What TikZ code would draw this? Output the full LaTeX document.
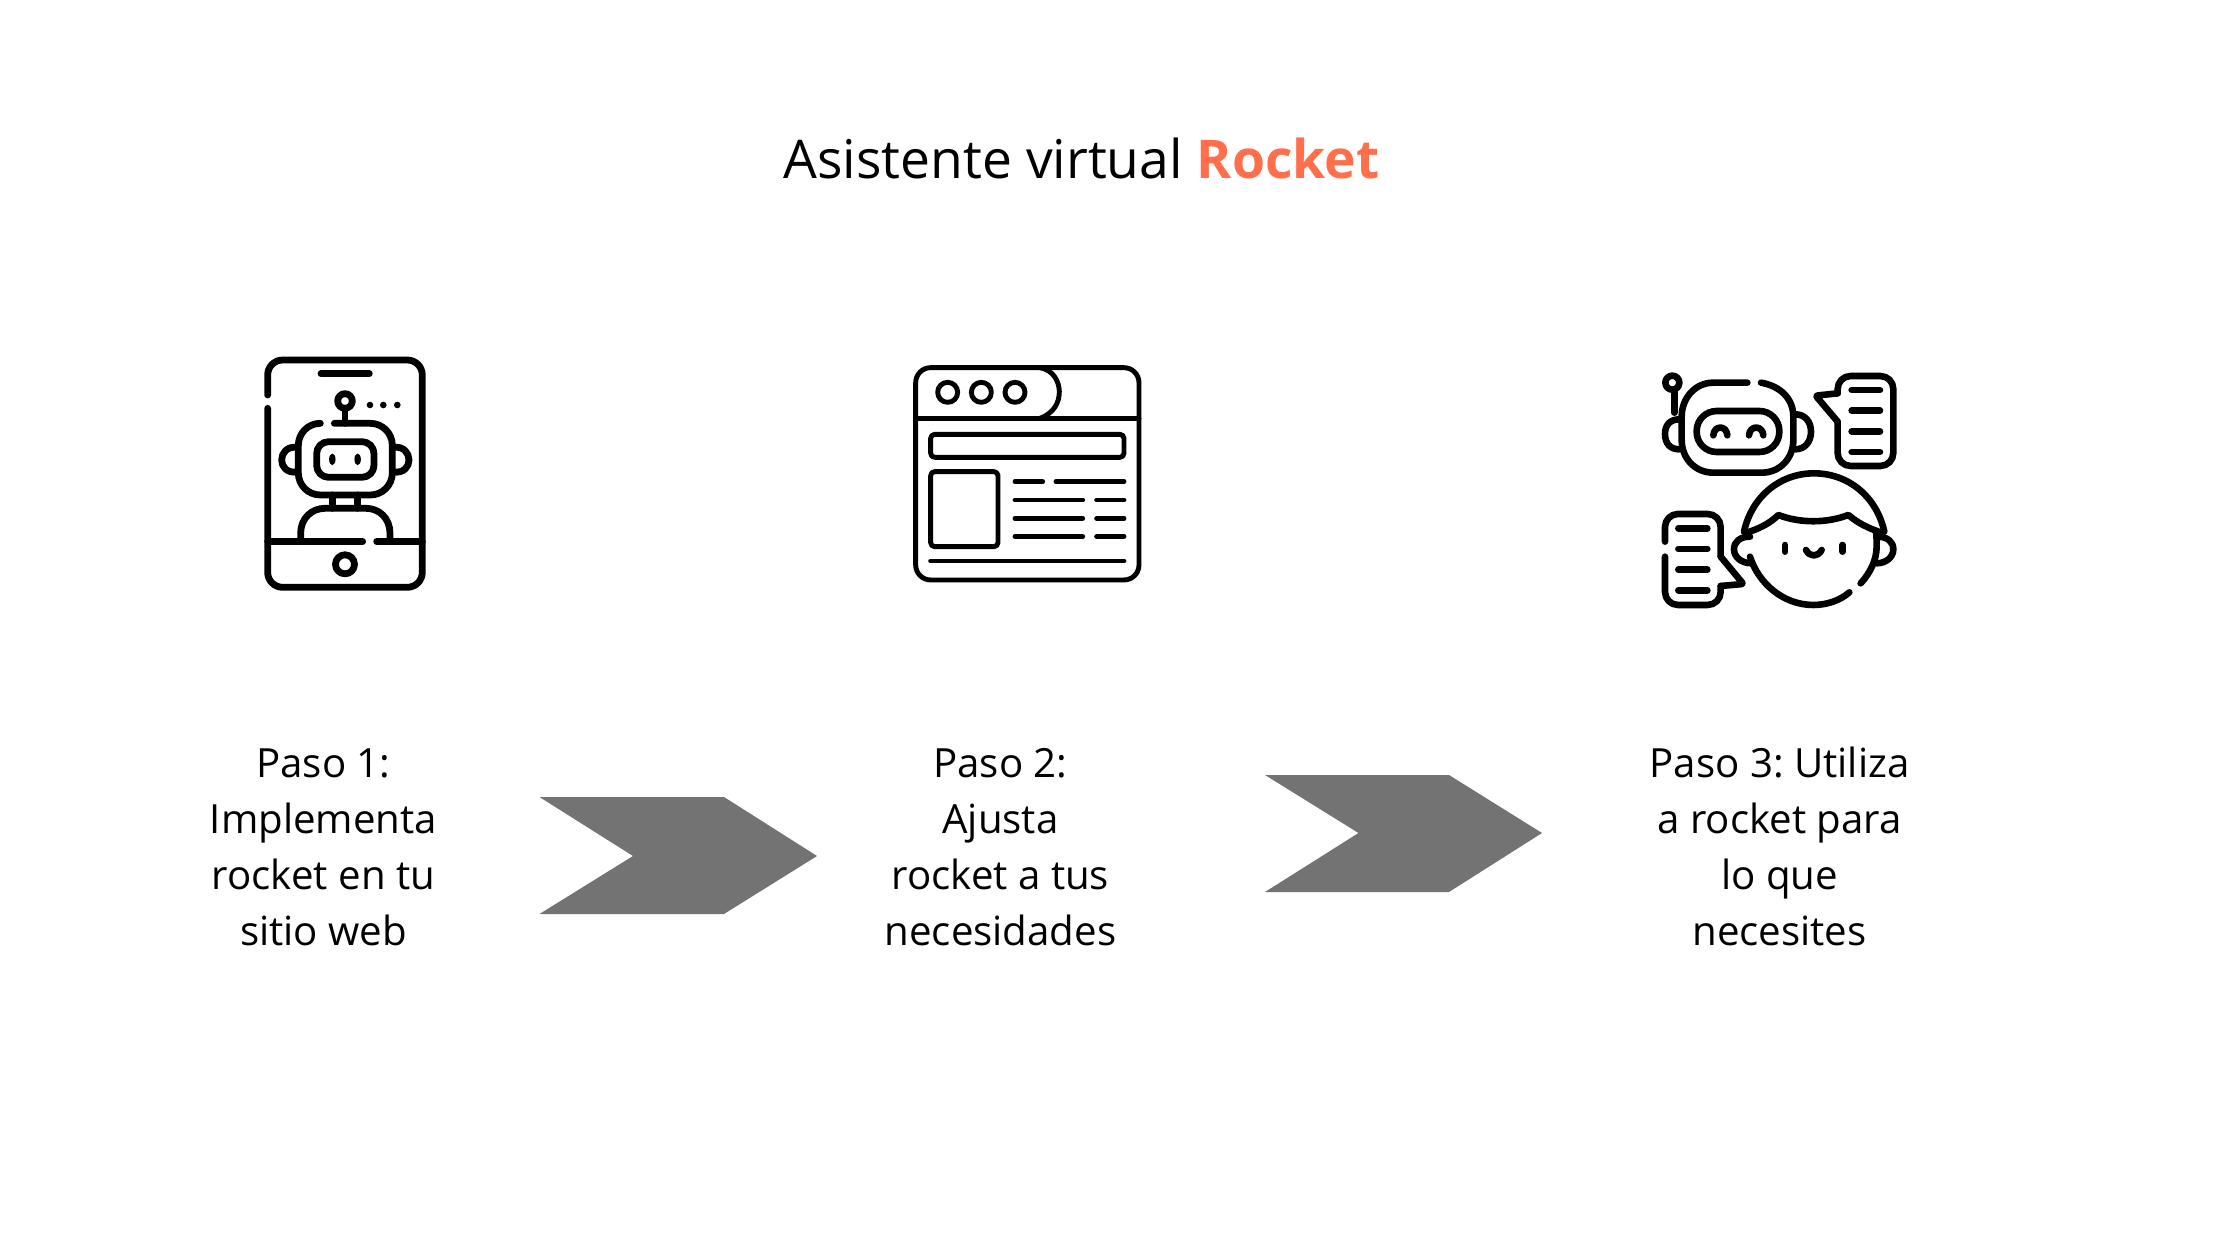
\documentclass[tikz,border=0pt]{standalone}
\usepackage{fontspec}
\setmainfont{Open Sans}
\frenchspacing
\definecolor{rocketc}{HTML}{FF6F4B}
\definecolor{chevc}{HTML}{737373}
\tikzset{
  iconline/.style={draw=black,line cap=round,line join=round,fill=none},
  iconA/.style={shift={(240,340)},x=0.3333pt,y=-0.3333pt,iconline,line width=6.8pt},
  iconB/.style={shift={(900,350)},x=0.3333pt,y=-0.3333pt,iconline,line width=4.9pt},
  iconC/.style={shift={(1650,360)},x=0.3333pt,y=-0.3333pt,iconline,line width=6.6pt},
  steptext/.style={align=center,font=\fontsize{40.2}{56}\selectfont,text=black,inner sep=0pt},
  chevron/.style={fill=chevc,draw=none}
}
\begin{document}
\begin{tikzpicture}[x=1pt,y=-1pt]
\useasboundingbox (0,0) rectangle (2240,1260);
\fill[white] (0,0) rectangle (2240,1260);
\node[inner sep=0pt,font=\fontsize{53.4}{60}\selectfont] (title) at (1081.5,158) {Asistente virtual \textcolor{rocketc}{\textbf{Rocket}}};
\node[steptext] (p1) at (323.5,847.5) {Paso 1:\\Implementa\\rocket en tu\\sitio web};
\node[steptext] (p2) at (1000.5,847.5) {Paso 2:\\Ajusta\\rocket a tus\\necesidades};
\node[steptext] (p3) at (1779.5,846) {Paso 3: Utiliza\\a rocket para\\lo que\\necesites};
\fill[chevron] (539.5,797) -- (724,797) -- (817,856) -- (724,914) -- (539.5,914) -- (633,856) -- cycle;
\fill[chevron] (1265,775) -- (1449,775) -- (1542,833) -- (1449,892) -- (1265,892) -- (1358.5,833) -- cycle;
% Icon 1: phone with robot
\begin{scope}[iconA]
\draw[rounded corners=15pt] (83,205) -- (83,742) -- (547,742) -- (547,60) -- (83,60) -- (83,165);
\draw (243,101) -- (388,101);
\draw (315,183) circle[radius=7.3pt];
\draw (315,210) -- (315,250);
\foreach \xx in {390,430,472} \fill[black] (\xx,195) circle[radius=3.3pt];
\draw[rounded corners=22pt] (283,250) -- (457,250) -- (457,465) -- (175,465) -- (175,250) -- (240,250);
\draw[rounded corners=12pt] (230,305) rectangle (402,412);
\fill[black] (277,358) ellipse[x radius=3.2pt,y radius=5.8pt];
\fill[black] (353,358) ellipse[x radius=3.2pt,y radius=5.8pt];
\draw (172,322) .. controls (140,318) and (125,340) .. (125,360) .. controls (125,380) and (140,400) .. (172,396);
\draw (460,322) .. controls (492,318) and (507,340) .. (507,360) .. controls (507,380) and (492,400) .. (460,396);
\draw (277,465) -- (277,505);
\draw (353,465) -- (353,505);
\draw (182,605) -- (182,580) .. controls (182,535) and (215,505) .. (255,505) -- (378,505) .. controls (418,505) and (450,535) .. (450,580) -- (450,605);
\draw (83,605) -- (368,605);
\draw (410,605) -- (547,605);
\draw (315,673) circle[radius=9.5pt];
\end{scope}
% Icon 2: browser window
\begin{scope}[iconB]
\draw[rounded corners=15pt] (47,53) rectangle (717,690);
\draw (47,205) -- (717,205);
\draw (420,53) .. controls (460,60) and (478,95) .. (478,125) .. controls (478,160) and (460,190) .. (420,205);
\foreach \xx in {143,244,345} \draw (\xx,127) circle[radius=10pt];
\draw[rounded corners=4pt] (92,253) rectangle (672,322);
\draw[rounded corners=4pt] (92,365) rectangle (294,590);
\draw (345,395) -- (428,395);
\draw (468,395) -- (672,395);
\foreach \yy in {450,505,560} {\draw (345,\yy) -- (548,\yy); \draw (590,\yy) -- (672,\yy);}
\draw (92,633) -- (672,633);
\end{scope}
% Icon 3: robot and person chatting
\begin{scope}[iconC]
\draw (67,68) circle[radius=7pt];
\draw (73,95) -- (73,158);
\draw (333,68) .. controls (390,78) and (430,115) .. (430,170) -- (430,240) .. controls (430,295) and (390,338) .. (335,338) -- (190,338) .. controls (135,338) and (95,295) .. (95,240) -- (95,170) .. controls (95,115) and (135,68) .. (190,68) -- (292,68);
\draw[rounded corners=20pt] (140,153) rectangle (388,276);
\draw (190,226) .. controls (192,195) and (230,195) .. (232,226);
\draw (297,226) .. controls (299,195) and (338,195) .. (340,226);
\draw (88,178) .. controls (60,178) and (45,195) .. (45,222) .. controls (45,250) and (60,268) .. (88,268);
\draw (436,163) .. controls (465,163) and (483,185) .. (483,215) .. controls (483,245) and (465,268) .. (436,268);
\draw[rounded corners=13pt] (563,100) -- (563,48) -- (730,48) -- (730,318) -- (563,318) -- (563,185);
\draw[rounded corners=2pt] (563,185) -- (497,107) -- (563,100);
\foreach \yy in {90,152,214,276} \draw (605,\yy) -- (690,\yy);
\draw (282,515) .. controls (305,410) and (390,340) .. (492,340) .. controls (595,340) and (680,410) .. (703,515);
\draw (300,590) .. controls (325,670) and (400,735) .. (490,735) .. controls (530,735) and (570,722) .. (598,697);
\draw (632,670) .. controls (660,640) and (680,600) .. (680,560) .. controls (680,545) and (680,530) .. (678,515);
\draw (290,518) .. controls (330,505) and (360,490) .. (385,465) .. controls (450,490) and (530,490) .. (595,465) .. controls (625,490) and (655,505) .. (695,518);
\draw (300,530) .. controls (270,530) and (252,545) .. (252,568) .. controls (252,592) and (275,610) .. (305,610);
\draw (682,530) .. controls (712,530) and (730,545) .. (730,568) .. controls (730,592) and (707,610) .. (680,610);
\draw (405,555) -- (405,575);
\draw (578,555) -- (578,575);
\draw (468,570) .. controls (480,592) and (503,592) .. (515,570);
\draw[rounded corners=13pt] (45,545) -- (45,462) -- (212,462) -- (212,590);
\draw[rounded corners=2pt] (212,590) -- (280,672) -- (212,678);
\draw[rounded corners=13pt] (212,678) -- (212,735) -- (45,735) -- (45,590);
\foreach \yy in {505,567,629,691} \draw (85,\yy) -- (172,\yy);
\end{scope}
\end{tikzpicture}
\end{document}
